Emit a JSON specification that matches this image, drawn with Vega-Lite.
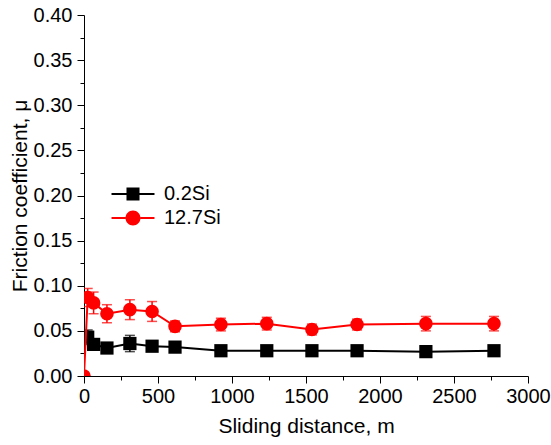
{
  "$schema": "https://vega.github.io/schema/vega-lite/v6.json",
  "width": 444,
  "height": 361,
  "autosize": {"type": "none"},
  "padding": {"left": 84, "top": 15, "right": 23, "bottom": 69},
  "background": "white",
  "config": {
    "view": {"stroke": null},
    "font": "Liberation Sans",
    "axis": {
      "grid": false,
      "domainColor": "#000000",
      "domainWidth": 1,
      "tickColor": "#000000",
      "tickWidth": 1,
      "labelColor": "#000000",
      "titleColor": "#000000",
      "labelFont": "Liberation Sans",
      "titleFont": "Liberation Sans",
      "labelFontSize": 20,
      "titleFontSize": 21,
      "titleFontWeight": "normal",
      "labelFlush": false,
      "labelOverlap": false
    }
  },
  "data": {
    "values": [
      {"series": "0.2Si", "x": 25, "y": 0.043, "err": 0.008},
      {"series": "0.2Si", "x": 65, "y": 0.035, "err": 0.005},
      {"series": "0.2Si", "x": 155, "y": 0.031, "err": 0.004},
      {"series": "0.2Si", "x": 310, "y": 0.036, "err": 0.009},
      {"series": "0.2Si", "x": 460, "y": 0.033, "err": 0.005},
      {"series": "0.2Si", "x": 615, "y": 0.032, "err": 0.005},
      {"series": "0.2Si", "x": 925, "y": 0.028, "err": 0.003},
      {"series": "0.2Si", "x": 1235, "y": 0.028, "err": 0.003},
      {"series": "0.2Si", "x": 1540, "y": 0.028, "err": 0.003},
      {"series": "0.2Si", "x": 1845, "y": 0.028, "err": 0.003},
      {"series": "0.2Si", "x": 2310, "y": 0.027, "err": 0.003},
      {"series": "0.2Si", "x": 2770, "y": 0.028, "err": 0.003},
      {"series": "12.7Si", "x": 0, "y": 0.0, "err": 0},
      {"series": "12.7Si", "x": 25, "y": 0.087, "err": 0.01},
      {"series": "12.7Si", "x": 65, "y": 0.081, "err": 0.012},
      {"series": "12.7Si", "x": 155, "y": 0.069, "err": 0.01},
      {"series": "12.7Si", "x": 310, "y": 0.0735, "err": 0.011},
      {"series": "12.7Si", "x": 460, "y": 0.0715, "err": 0.011},
      {"series": "12.7Si", "x": 615, "y": 0.055, "err": 0.006},
      {"series": "12.7Si", "x": 925, "y": 0.057, "err": 0.007},
      {"series": "12.7Si", "x": 1235, "y": 0.058, "err": 0.007},
      {"series": "12.7Si", "x": 1540, "y": 0.0515, "err": 0.006},
      {"series": "12.7Si", "x": 1845, "y": 0.057, "err": 0.006},
      {"series": "12.7Si", "x": 2310, "y": 0.058, "err": 0.008},
      {"series": "12.7Si", "x": 2770, "y": 0.058, "err": 0.008}
    ]
  },
  "encoding": {
    "x": {
      "field": "x",
      "type": "quantitative",
      "scale": {"domain": [0, 3000], "nice": false, "zero": false},
      "axis": {
        "title": "Sliding distance, m",
        "values": [0, 250, 500, 750, 1000, 1250, 1500, 1750, 2000, 2250, 2500, 2750, 3000],
        "format": "d",
        "labelExpr": "datum.value % 500 === 0 ? datum.label : ''",
        "tickSize": {"condition": {"test": "datum.value % 500 === 0", "value": 7}, "value": 4},
        "labelPadding": 3,
        "titlePadding": 9
      }
    },
    "y": {
      "field": "y",
      "type": "quantitative",
      "scale": {"domain": [0, 0.4], "nice": false},
      "title": "Friction coefficient, μ",
      "axis": {
        "title": "Friction coefficient, μ",
        "values": [0, 0.025, 0.05, 0.075, 0.1, 0.125, 0.15, 0.175, 0.2, 0.225, 0.25, 0.275, 0.3, 0.325, 0.35, 0.375, 0.4],
        "format": ".2f",
        "labelExpr": "round(datum.value * 1000) % 50 === 0 ? datum.label : ''",
        "tickSize": {"condition": {"test": "round(datum.value * 1000) % 50 === 0", "value": 7}, "value": 4},
        "labelPadding": 5,
        "titlePadding": 3
      }
    }
  },
  "layer": [
    {
      "transform": [{"filter": "datum.series === '0.2Si'"}],
      "mark": {"type": "errorbar", "color": "#000000", "ticks": {"size": 10, "thickness": 1.5, "color": "#000000"}, "thickness": 1.5, "clip": true},
      "encoding": {"yError": {"field": "err"}}
    },
    {
      "transform": [{"filter": "datum.series === '0.2Si'"}],
      "mark": {"type": "line", "color": "#000000", "strokeWidth": 2, "clip": true}
    },
    {
      "transform": [{"filter": "datum.series === '0.2Si'"}],
      "mark": {"type": "point", "shape": "square", "filled": true, "color": "#000000", "size": 175, "opacity": 1, "clip": true}
    },
    {
      "transform": [{"filter": "datum.series === '12.7Si'"}],
      "mark": {"type": "errorbar", "color": "#ff0000", "ticks": {"size": 10, "thickness": 1.5, "color": "#ff0000"}, "thickness": 1.5, "clip": true},
      "encoding": {"yError": {"field": "err"}}
    },
    {
      "transform": [{"filter": "datum.series === '12.7Si'"}],
      "mark": {"type": "line", "color": "#ff0000", "strokeWidth": 2, "clip": true}
    },
    {
      "transform": [{"filter": "datum.series === '12.7Si'"}],
      "mark": {"type": "point", "shape": "circle", "filled": true, "color": "#ff0000", "size": 185, "opacity": 1, "clip": true}
    },
    {
      "mark": {"type": "point", "filled": true, "opacity": 0, "size": 10, "clip": true},
      "encoding": {
        "color": {
          "field": "series",
          "type": "nominal",
          "scale": {"domain": ["0.2Si", "12.7Si"], "range": ["#000000", "#ff0000"]},
          "legend": {
            "title": null,
            "orient": "none",
            "legendX": 39,
            "legendY": 169,
            "padding": 0,
            "symbolSize": 196,
            "symbolOpacity": 1,
            "symbolStrokeWidth": 0,
            "labelFont": "Liberation Sans",
            "labelFontSize": 20,
            "labelColor": "#000000",
            "labelOffset": 21,
            "rowPadding": 4
          }
        },
        "shape": {
          "field": "series",
          "type": "nominal",
          "scale": {
            "domain": ["0.2Si", "12.7Si"],
            "range": [
              "M-3.07,-0.14H-0.93V0.14H-3.07Z M0.93,-0.14H3.07V0.14H0.93Z M-0.93,-0.93H0.93V0.93H-0.93Z",
              "M-3.07,-0.14H-1.07V0.14H-3.07Z M1.07,-0.14H3.07V0.14H1.07Z M1.07,0A1.07,1.07,0,1,1,-1.07,0A1.07,1.07,0,1,1,1.07,0Z"
            ]
          },
          "legend": {
            "title": null,
            "orient": "none",
            "legendX": 39,
            "legendY": 169,
            "padding": 0,
            "symbolSize": 196,
            "symbolOpacity": 1,
            "symbolStrokeWidth": 0,
            "labelFont": "Liberation Sans",
            "labelFontSize": 20,
            "labelColor": "#000000",
            "labelOffset": 21,
            "rowPadding": 4
          }
        }
      }
    }
  ]
}
